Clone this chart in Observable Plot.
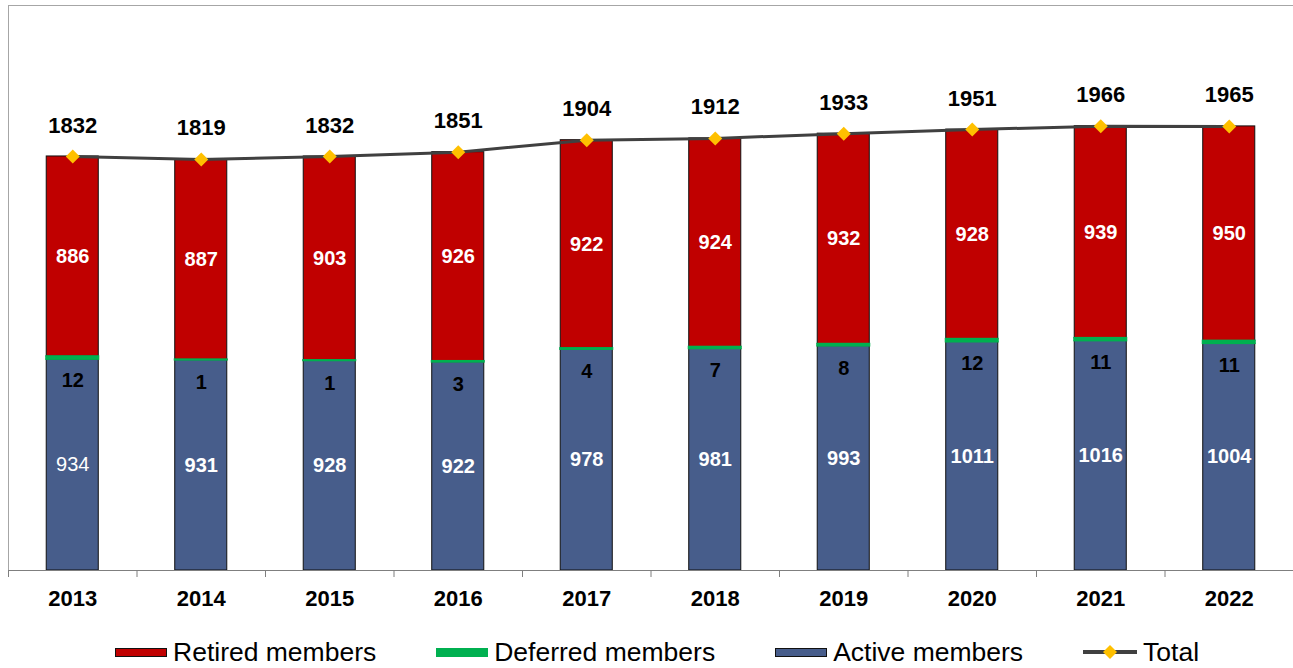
<!DOCTYPE html>
<html>
<head>
<meta charset="utf-8">
<script src="https://cdn.jsdelivr.net/npm/d3@7"></script>
<script src="https://cdn.jsdelivr.net/npm/@observablehq/plot@0.6"></script>
<style>
  html, body { margin: 0; padding: 0; background: #fff; }
  body { width: 1293px; height: 668px; position: relative; overflow: hidden; font-family: "Liberation Sans", Arial, sans-serif; }
  #legend { position: absolute; left: 0; top: 636px; height: 32px; width: 1293px; display: flex; align-items: center; padding-left: 115px; box-sizing: border-box; gap: 60px; font-size: 26.5px; color: #000; }
  .item { display: flex; align-items: center; gap: 6px; white-space: nowrap; }
  .sw { width: 52px; height: 9px; box-sizing: border-box; }
</style>
</head>
<body>
<div id="chart"></div>
<div id="legend"></div>
<script>
const years = [2013, 2014, 2015, 2016, 2017, 2018, 2019, 2020, 2021, 2022];
const active = [934, 931, 928, 922, 978, 981, 993, 1011, 1016, 1004];
const deferred = [12, 1, 1, 3, 4, 7, 8, 12, 11, 11];
const retired = [886, 887, 903, 926, 922, 924, 932, 928, 939, 950];
const total = [1832, 1819, 1832, 1851, 1904, 1912, 1933, 1951, 1966, 1965];

const seriesNames = ["Retired members", "Deferred members", "Active members", "Total"];
const colors = { retired: "#C00000", deferred: "#00B050", active: "#475D8B", line: "#404040", marker: "#FFC000" };

const rows = years.map((year, i) => ({
  year,
  active: active[i],
  deferred: deferred[i],
  retired: retired[i],
  total: total[i],
  activeTop: active[i],
  deferredTop: active[i] + deferred[i],
  retiredTop: active[i] + deferred[i] + retired[i]
}));

const font = "'Liberation Sans', Arial, sans-serif";

const chart = Plot.plot({
  width: 1293,
  height: 625,
  marginLeft: 8,
  marginRight: 0,
  marginTop: 5,
  marginBottom: 55,
  x: { type: "band", domain: years, paddingInner: 0.595, paddingOuter: 0.2975, round: false, axis: null },
  y: { domain: [0, 2500], axis: null },
  style: { fontFamily: font, background: "#fff", overflow: "visible" },
  marks: [
    Plot.frame({ stroke: "#a6a6a6", insetRight: -4 }),
    Plot.barY(rows, { x: "year", y1: 0, y2: "activeTop", fill: colors.active, stroke: "#111", strokeWidth: 1 }),
    Plot.barY(rows, { x: "year", y1: "deferredTop", y2: "retiredTop", fill: colors.retired, stroke: "#111", strokeWidth: 1 }),
    Plot.barY(rows, { x: "year", y1: "activeTop", y2: "deferredTop", fill: colors.deferred, stroke: colors.deferred, strokeWidth: 2 }),
    Plot.ruleY([0], { stroke: "#7f7f7f", strokeWidth: 1 }),
    Plot.ruleX(rows, { x: "year", dx: -64.25, y1: 0, y2: 0, insetBottom: -7, stroke: "#7f7f7f" }),
    Plot.line(rows, { x: "year", y: "total", stroke: colors.line, strokeWidth: 3 }),
    Plot.dot(rows, { x: "year", y: "total", symbol: "diamond2", r: 6.3, fill: colors.marker, stroke: "none" }),
    Plot.text(rows, { x: "year", y: "total", text: d => String(d.total), dy: -31, fontSize: 22, fontWeight: "bold", fill: "#000" }),
    Plot.text(rows, { x: "year", y: d => d.deferredTop + d.retired / 2, text: d => String(d.retired), fontSize: 20, fontWeight: "bold", fill: "#fff" }),
    Plot.text(rows, { x: "year", y: d => d.activeTop + d.deferred / 2, text: d => String(d.deferred), dy: 23, fontSize: 20, fontWeight: "bold", fill: "#000" }),
    Plot.text(rows.slice(0, 1), { x: "year", y: d => d.active / 2, text: d => String(d.active), fontSize: 20, fontWeight: "normal", fill: "#fff" }),
    Plot.text(rows.slice(1), { x: "year", y: d => d.active / 2, text: d => String(d.active), fontSize: 20, fontWeight: "bold", fill: "#fff" }),
    Plot.text(rows, { x: "year", y: 0, text: d => String(d.year), dy: 28, fontSize: 22, fontWeight: "bold", fill: "#000" })
  ]
});
document.getElementById("chart").appendChild(chart);

const legend = document.getElementById("legend");
const swatchStyles = [
  `background:${colors.retired};border:1px solid #111;`,
  `background:${colors.deferred};`,
  `background:${colors.active};border:1px solid #111;`
];
seriesNames.forEach((name, i) => {
  const item = document.createElement("div");
  item.className = "item";
  if (i < 3) {
    item.innerHTML = `<div class="sw" style="${swatchStyles[i]}"></div><span>${name}</span>`;
  } else {
    item.innerHTML = `<svg width="54" height="16" style="display:block"><line x1="0" y1="8" x2="54" y2="8" stroke="${colors.line}" stroke-width="4" stroke-linecap="round"/><path d="M27,1 L34,8 L27,15 L20,8 Z" fill="${colors.marker}"/></svg><span>${name}</span>`;
  }
  legend.appendChild(item);
});
</script>
</body>
</html>
